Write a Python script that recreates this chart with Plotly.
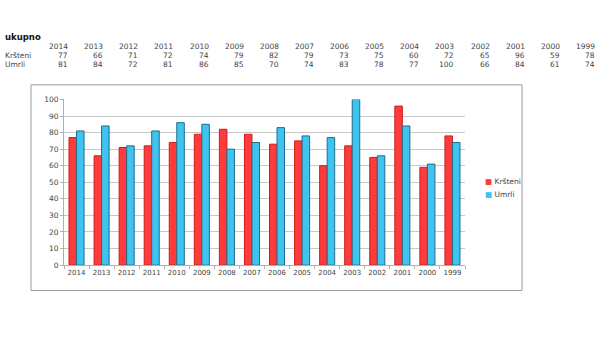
import plotly.graph_objects as go

years = ["2014", "2013", "2012", "2011", "2010", "2009", "2008", "2007",
         "2006", "2005", "2004", "2003", "2002", "2001", "2000", "1999"]
krsteni = [77, 66, 71, 72, 74, 79, 82, 79, 73, 75, 60, 72, 65, 96, 59, 78]
umrli = [81, 84, 72, 81, 86, 85, 70, 74, 83, 78, 77, 100, 66, 84, 61, 74]
title_text = "ukupno"
row_labels = ["Kršteni", "Umrli"]
y_ticks = list(range(0, 101, 10))

W, H = 600, 350
FONT = "DejaVu Sans"
TXT = "#444444"
RED, RED_EDGE = "#FF3B3B", "#C81E1E"
BLUE, BLUE_EDGE = "#3EC4EE", "#1F6D8A"

fig = go.Figure()
fig.add_trace(go.Bar(
    x=years, y=krsteni, name=row_labels[0],
    marker=dict(color=RED, line=dict(color=RED_EDGE, width=1)),
))
fig.add_trace(go.Bar(
    x=years, y=umrli, name=row_labels[1],
    marker=dict(color=BLUE, line=dict(color=BLUE_EDGE, width=1)),
))

ann = []
def px(x):
    return x / W
def py(y):
    return 1 - y / H

ann.append(dict(x=px(3), y=py(34), xref="paper", yref="paper", text="<b>" + title_text + "</b>",
                showarrow=False, xanchor="left", yanchor="middle",
                font=dict(family=FONT, size=8.5, color="#111111")))
ann.append(dict(x=px(3), y=py(53), xref="paper", yref="paper", text=row_labels[0],
                showarrow=False, xanchor="left", yanchor="middle",
                font=dict(family=FONT, size=7.5, color=TXT)))
ann.append(dict(x=px(3), y=py(62), xref="paper", yref="paper", text=row_labels[1],
                showarrow=False, xanchor="left", yanchor="middle",
                font=dict(family=FONT, size=7.5, color=TXT)))
for i, yr in enumerate(years):
    xr = 70 + i * 35.13
    for yy, t in ((44, yr), (53, str(krsteni[i])), (62, str(umrli[i]))):
        ann.append(dict(x=px(xr), y=py(yy), xref="paper", yref="paper", text=t,
                        showarrow=False, xanchor="right", yanchor="middle",
                        font=dict(family=FONT, size=7.5, color=TXT)))

# legend (compact, as in the reference)
for k, (name, col) in enumerate(((row_labels[0], RED), (row_labels[1], BLUE))):
    ann.append(dict(x=px(483), y=py(182 + 14 * k), xref="paper", yref="paper",
                    text="<span style='color:%s'>■</span> %s" % (col, name),
                    showarrow=False, xanchor="left", yanchor="middle",
                    font=dict(family=FONT, size=7.5, color=TXT)))

fig.update_layout(
    width=W, height=H,
    margin=dict(l=0, r=0, t=0, b=0),
    paper_bgcolor="white", plot_bgcolor="white",
    barmode="group", bargap=0.4, bargroupgap=0.0,
    annotations=ann,
    showlegend=False,
    shapes=[dict(type="rect", xref="paper", yref="paper",
                 x0=px(31), x1=px(522), y0=py(294), y1=py(83),
                 line=dict(color="#9A9A9A", width=1), fillcolor="rgba(0,0,0,0)", layer="below")],
    xaxis=dict(domain=[px(64), px(465)], type="category", tickangle=0,
               showgrid=False, showline=True, linecolor="#B0B0B0",
               ticks="outside", ticklen=3, tickcolor="#B0B0B0", tickson="boundaries",
               tickfont=dict(family=FONT, size=7, color=TXT)),
    yaxis=dict(domain=[py(268), py(98)], range=[0, 100],
               tickvals=y_ticks, showgrid=True, gridcolor="#C8C8C8", gridwidth=1,
               showline=True, linecolor="#B0B0B0", zeroline=False,
               ticks="outside", ticklen=3, tickcolor="#B0B0B0",
               tickfont=dict(family=FONT, size=7.5, color=TXT)),
)

fig.write_html("out.html")
